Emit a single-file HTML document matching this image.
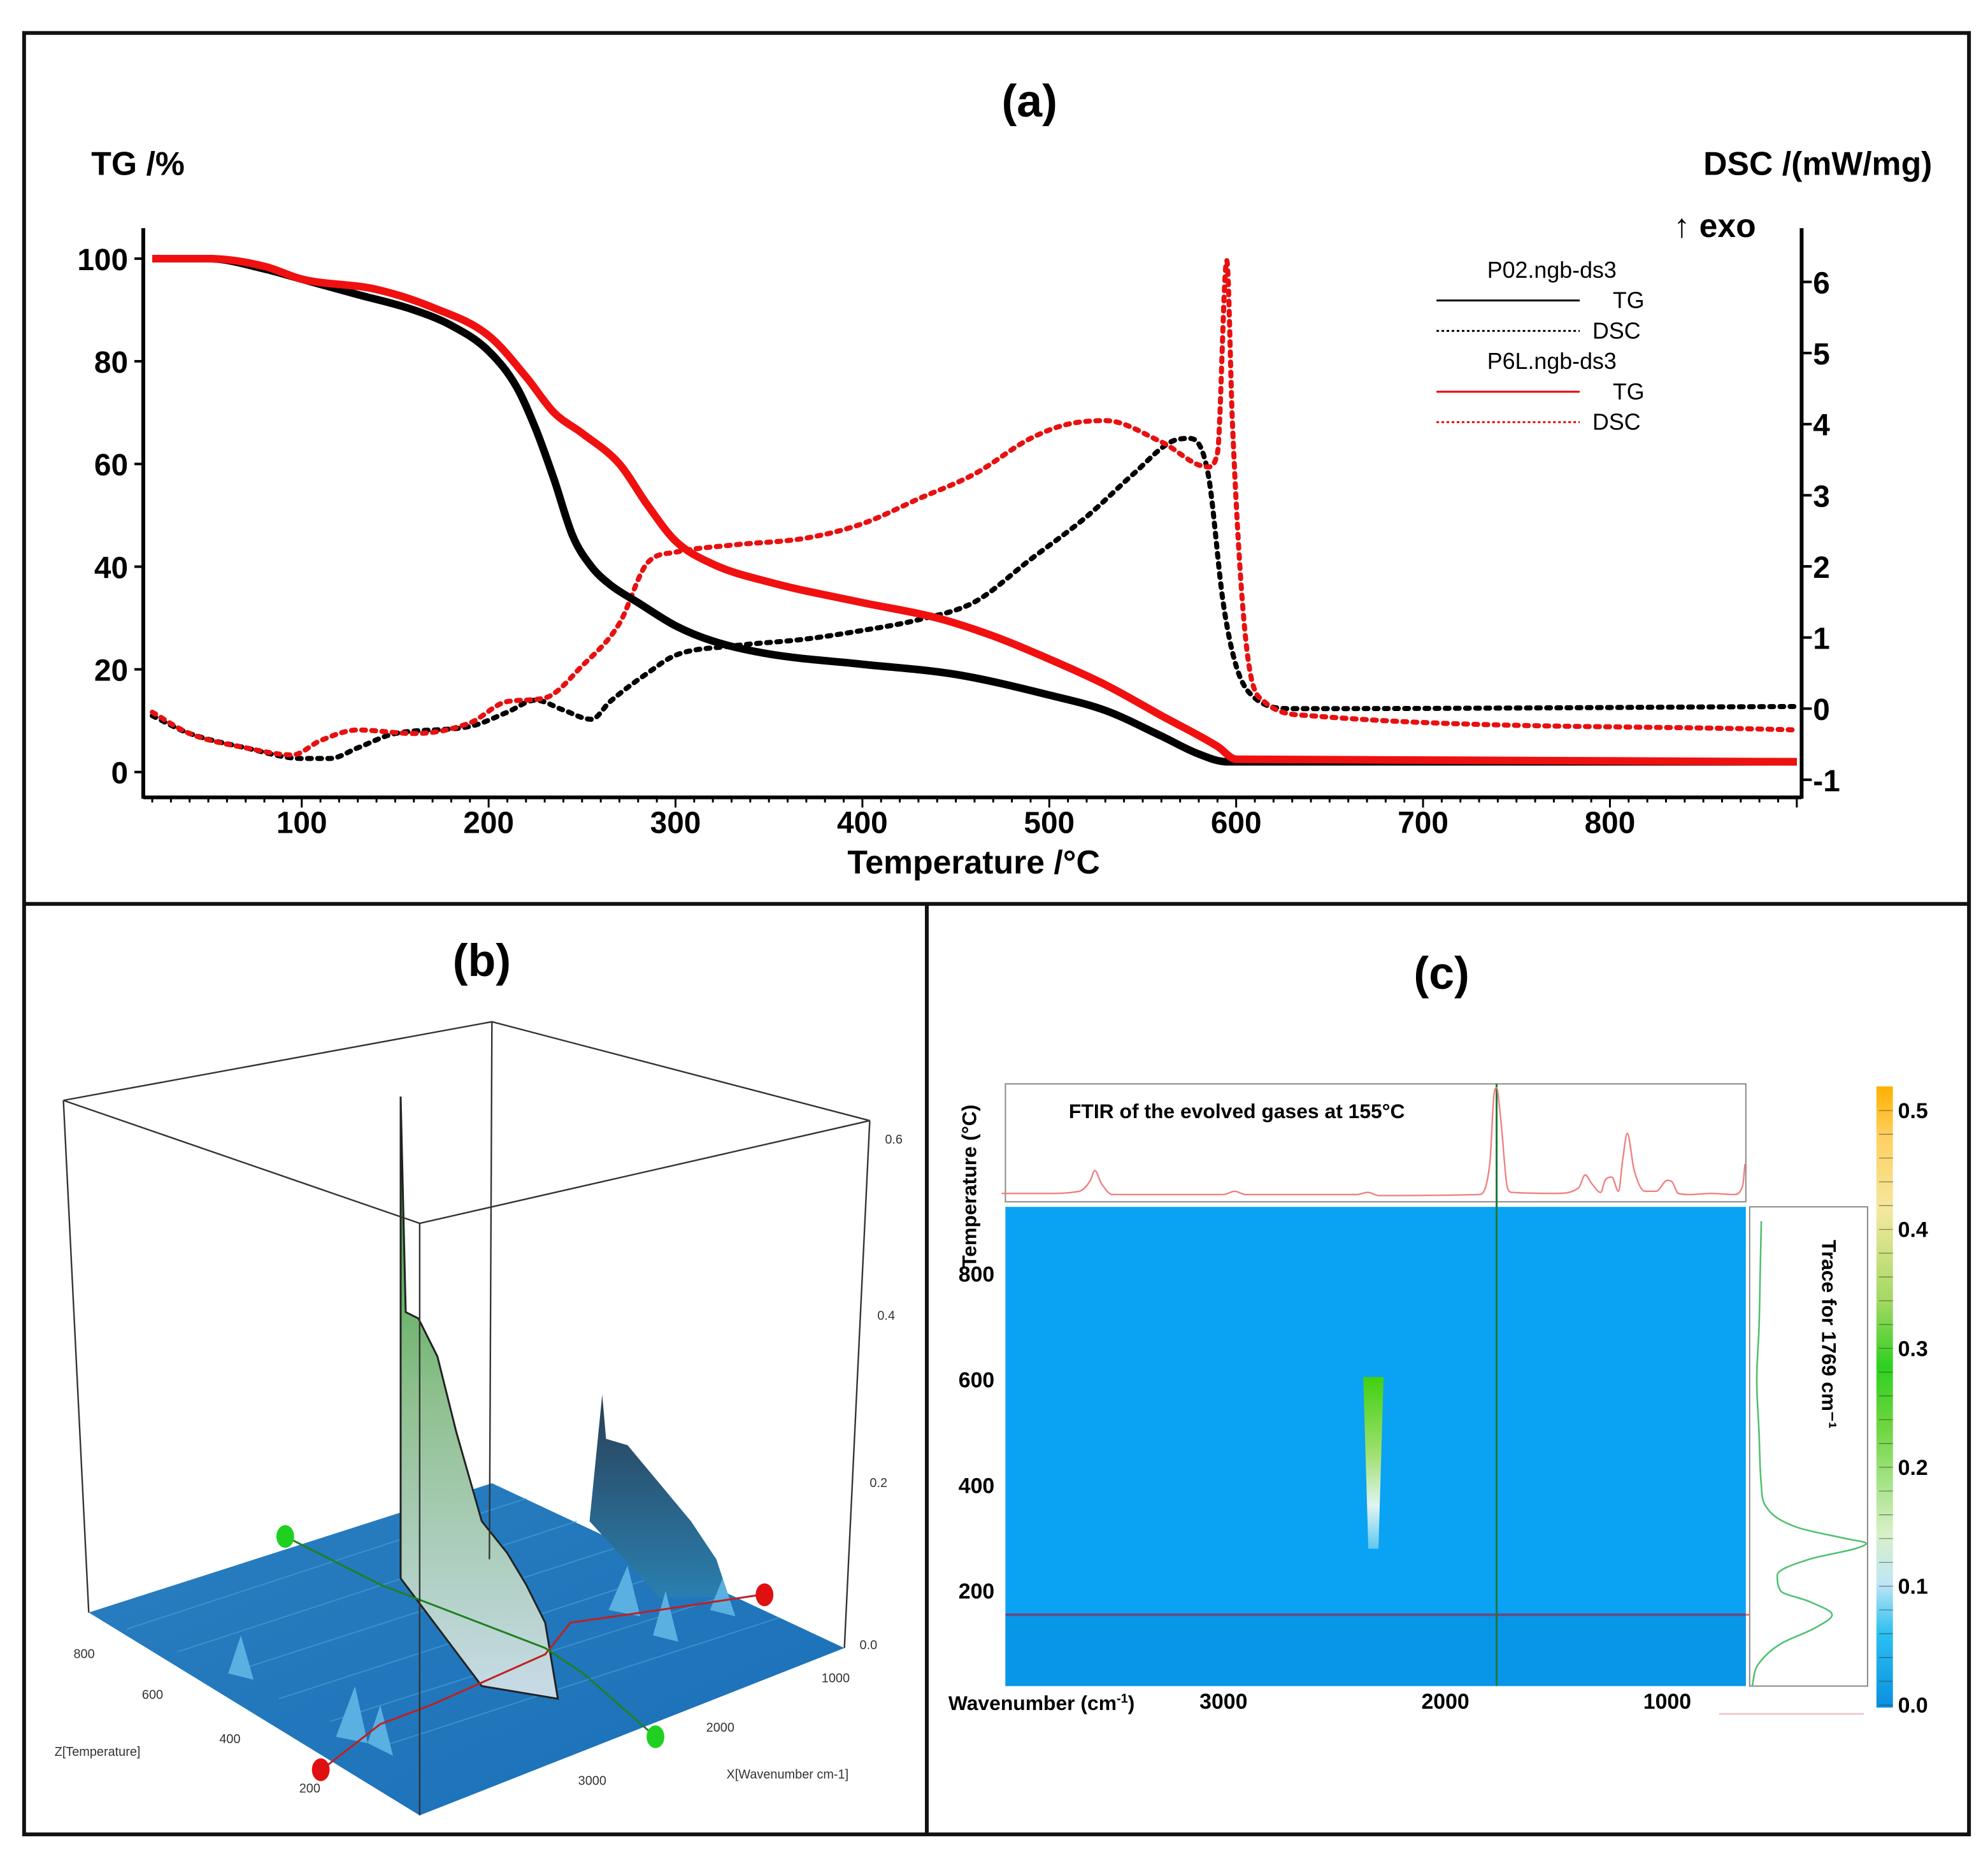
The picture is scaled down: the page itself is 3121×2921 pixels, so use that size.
<!DOCTYPE html>
<html><head><meta charset="utf-8"><style>
html,body{margin:0;padding:0;background:#fff}
svg{display:block}
text{font-family:"Liberation Sans",sans-serif}
</style></head><body>
<svg id="root" width="3121" height="2921" viewBox="0 0 1568 1468" preserveAspectRatio="none" xmlns="http://www.w3.org/2000/svg">
<defs>
<linearGradient id="peakG" x1="0" y1="0" x2="0" y2="1"><stop offset="0" stop-color="#1f9a1f"/><stop offset="0.5" stop-color="#8fc08f"/><stop offset="1" stop-color="#c8dbe8"/></linearGradient>
<linearGradient id="peak2" x1="0" y1="0" x2="0" y2="1"><stop offset="0" stop-color="#2a3f55"/><stop offset="1" stop-color="#2a7fb0"/></linearGradient>
<linearGradient id="cbar" x1="0" y1="1" x2="0" y2="0">
<stop offset="0" stop-color="#0a8fe0"/><stop offset="0.12" stop-color="#2cc0f0"/><stop offset="0.2" stop-color="#bfe6f5"/><stop offset="0.28" stop-color="#d8f0c8"/><stop offset="0.45" stop-color="#6fd640"/><stop offset="0.55" stop-color="#2ed020"/><stop offset="0.65" stop-color="#9fd860"/><stop offset="0.8" stop-color="#f4e8a0"/><stop offset="0.92" stop-color="#ffd060"/><stop offset="1" stop-color="#ffb000"/></linearGradient>
<linearGradient id="band" x1="0" y1="0" x2="0" y2="1"><stop offset="0" stop-color="#40d010"/><stop offset="0.45" stop-color="#a0e070"/><stop offset="0.75" stop-color="#e0f4f0"/><stop offset="1" stop-color="#60c8f0"/></linearGradient>
<linearGradient id="floorG" x1="0" y1="0" x2="1" y2="1"><stop offset="0" stop-color="#2a7fc0"/><stop offset="1" stop-color="#1a6fb8"/></linearGradient>
</defs>
<rect x="19" y="26" width="1534" height="1421" fill="none" stroke="#111" stroke-width="3"/>
<line x1="19" y1="713" x2="1553" y2="713" stroke="#111" stroke-width="3"/>
<line x1="731" y1="713" x2="731" y2="1447" stroke="#111" stroke-width="3"/>

<g id="pa">
<text x="812" y="92" font-size="36" font-weight="bold" text-anchor="middle">(a)</text>
<text x="72" y="138" font-size="26" font-weight="bold">TG /%</text>
<text x="1524" y="138" font-size="26" font-weight="bold" text-anchor="end">DSC /(mW/mg)</text>
<text x="1320" y="187" font-size="26" font-weight="bold">↑ exo</text>
<g id="axA"></g>
<g id="serA"></g>
<g font-size="18">
<text x="1224" y="219" text-anchor="middle">P02.ngb-ds3</text>
<line x1="1133" y1="237" x2="1246" y2="237" stroke="#000" stroke-width="1.5"/>
<text x="1272" y="243">TG</text>
<line x1="1133" y1="261" x2="1246" y2="261" stroke="#000" stroke-width="1.5" stroke-dasharray="2,2"/>
<text x="1256" y="267">DSC</text>
<text x="1224" y="291" text-anchor="middle">P6L.ngb-ds3</text>
<line x1="1133" y1="309" x2="1246" y2="309" stroke="#e00" stroke-width="1.5"/>
<text x="1272" y="315">TG</text>
<line x1="1133" y1="333" x2="1246" y2="333" stroke="#e00" stroke-width="1.5" stroke-dasharray="2,2"/>
<text x="1256" y="339">DSC</text>
</g>
</g>

<g id="pb">
<text x="380" y="770" font-size="36" font-weight="bold" text-anchor="middle">(b)</text>
<polygon points="70,1272 388,1170 666,1300 331,1432" fill="url(#floorG)"/>
<g stroke="#4aa0d8" stroke-width="1" opacity="0.6">
<line x1="100" y1="1285" x2="415" y2="1182"/><line x1="140" y1="1303" x2="455" y2="1200"/><line x1="180" y1="1320" x2="495" y2="1218"/><line x1="220" y1="1340" x2="535" y2="1238"/><line x1="260" y1="1358" x2="575" y2="1258"/><line x1="300" y1="1378" x2="615" y2="1276"/></g>
<path d="M316,1245 L316,865 L320,1035 L330,1040 L345,1070 L360,1130 L380,1200 L400,1225 L415,1250 L430,1280 L440,1340 L380,1330 Z" fill="url(#peakG)" stroke="#222" stroke-width="1.5"/>
<path d="M465,1200 L475,1100 L478,1135 L495,1140 L520,1170 L545,1200 L565,1230 L575,1260 L520,1260 Z" fill="url(#peak2)"/>
<path d="M480,1270 L495,1235 L505,1275 Z M515,1290 L525,1255 L535,1295 Z M560,1270 L570,1245 L580,1275 Z M265,1370 L280,1330 L290,1375 Z M290,1375 L300,1345 L310,1385 Z M180,1320 L190,1290 L200,1325 Z" fill="#5ab0e0"/>
<polyline points="255,1395 300,1360 340,1345 430,1305 450,1280 520,1270 600,1258" fill="none" stroke="#c02020" stroke-width="1.5"/>
<polyline points="225,1212 300,1250 430,1300 460,1320 517,1370" fill="none" stroke="#208020" stroke-width="1.5"/>
<g fill="none" stroke="#333" stroke-width="1.2">
<polyline points="50,868 388,806 686,884 331,965 50,868"/>
<line x1="50" y1="868" x2="70" y2="1272"/><line x1="388" y1="806" x2="386" y2="1230"/>
<line x1="331" y1="965" x2="331" y2="1432"/><line x1="686" y1="884" x2="666" y2="1300"/>
</g>
<ellipse cx="225" cy="1212" rx="7" ry="9" fill="#20d020"/>
<ellipse cx="517" cy="1370" rx="7" ry="9" fill="#20d020"/>
<ellipse cx="253" cy="1396" rx="7" ry="9" fill="#e01010"/>
<ellipse cx="603" cy="1258" rx="7" ry="9" fill="#e01010"/>
<g font-size="10" fill="#333">
<text x="698" y="902">0.6</text><text x="692" y="1041">0.4</text><text x="686" y="1173">0.2</text><text x="678" y="1301">0.0</text>
<text x="58" y="1308">800</text><text x="112" y="1340">600</text><text x="173" y="1375">400</text><text x="236" y="1414">200</text>
<text x="43" y="1385">Z[Temperature]</text>
<text x="648" y="1327">1000</text><text x="557" y="1366">2000</text><text x="456" y="1408">3000</text>
<text x="573" y="1403">X[Wavenumber cm-1]</text>
</g>
</g>

<g id="pc">
<text x="1137" y="780" font-size="36" font-weight="bold" text-anchor="middle">(c)</text>
<rect x="793" y="855" width="584" height="93" fill="#fff" stroke="#888" stroke-width="1"/>
<text x="843" y="882" font-size="16" font-weight="bold">FTIR of the evolved gases at 155°C</text>
<rect x="793" y="952" width="584" height="378" fill="#0aa2f2"/>
<rect x="793" y="1275" width="584" height="55" fill="#0896e8"/>
<g id="hm"></g>
<rect x="1380" y="952" width="93" height="378" fill="#fff" stroke="#888" stroke-width="1"/>
<text transform="translate(1437,978) rotate(90)" font-size="16" font-weight="bold">Trace for 1769 cm⁻¹</text>
<g id="cAx"></g>
<text transform="translate(770,1000) rotate(-90)" font-size="16" font-weight="bold">Temperature (°C)</text>
<text x="748" y="1349" font-size="16" font-weight="bold">Wavenumber (cm<tspan font-size="10" dy="-6">-1</tspan><tspan dy="6">)</tspan></text>
<rect x="1480" y="857" width="13" height="490" fill="url(#cbar)"/>
<g id="cb"></g>
<line x1="1356" y1="1352" x2="1470" y2="1352" stroke="#f4b0b0" stroke-width="1"/>
</g>
</svg>
<script>
// ---- Panel (a) data ----
const tgTemp = [20,50,80,100,130,160,180,200,215,225,235,245,255,265,280,300,320,350,400,450,500,530,560,580,595,610,900];
const tgP02 = [100,100,98,96,93,90,87,82,75,67,57,46,40,36.5,33,28.5,25.5,23,21,19,15,12,7,3.5,2,2,2];
const tgTempB = [20,50,80,100,140,170,200,220,235,250,270,285,300,320,350,400,440,470,500,530,560,590,600,900];
const tgP6L = [100,100,98.5,96,94,90.5,85,77,70,66,60,52,45,40.5,37,33,30,26.5,22,17,11,5,2.5,2];
const dscTempA = [20,40,70,100,115,130,150,190,210,225,240,255,265,285,300,330,370,400,430,460,490,520,545,565,575,585,593,600,610,630,900];
const dscP02 = [-0.1,-0.35,-0.55,-0.7,-0.7,-0.55,-0.35,-0.25,-0.05,0.12,-0.02,-0.15,0.1,0.5,0.75,0.88,0.98,1.1,1.25,1.5,2.1,2.7,3.3,3.75,3.8,3.3,1.5,0.6,0.15,0,0.03];
const dscTempB = [20,40,70,95,110,130,160,190,210,230,250,270,285,300,330,370,400,430,460,490,510,530,560,585,590,595,598,605,615,640,900];
const dscP6L = [-0.05,-0.35,-0.55,-0.65,-0.45,-0.3,-0.35,-0.2,0.1,0.15,0.6,1.2,2.05,2.2,2.3,2.4,2.6,2.95,3.3,3.8,4.0,4.05,3.75,3.4,3.6,6.3,4,1.0,0.1,-0.1,-0.3];
const xTicksA = [100,200,300,400,500,600,700,800];
const tgTicks = [0,20,40,60,80,100];
const dscTicks = [-1,0,1,2,3,4,5,6];

const NS='http://www.w3.org/2000/svg';
function mk(tag, attrs, parent){const e=document.createElementNS(NS,tag);for(const k in attrs)e.setAttribute(k,attrs[k]);parent.appendChild(e);return e;}
const xA = t => 238 + (t-100)*1.474;
const yTG = v => 609 - 4.05*v;
const yDSC = d => 559 - 56.1*d;

// monotone cubic (x must be increasing); swap=true treats y as independent
function smooth(P, swap){
  const Q = swap ? P.map(p=>[p[1],p[0]]) : P.slice();
  if(swap && Q[0][0]>Q[Q.length-1][0]) Q.reverse();
  const n=Q.length, s=[], m=[];
  for(let i=0;i<n-1;i++){const h=Q[i+1][0]-Q[i][0]; s.push(h? (Q[i+1][1]-Q[i][1])/h : 0);}
  for(let i=0;i<n;i++){
    if(i===0) m.push(s[0]); else if(i===n-1) m.push(s[n-2]);
    else m.push(s[i-1]*s[i]<=0?0:(s[i-1]+s[i])/2);
  }
  for(let i=0;i<n-1;i++){
    if(s[i]===0){m[i]=0;m[i+1]=0;continue;}
    const a=m[i]/s[i], b=m[i+1]/s[i], r=a*a+b*b;
    if(r>9){const t=3/Math.sqrt(r); m[i]=t*a*s[i]; m[i+1]=t*b*s[i];}
  }
  const f = swap ? (x,y)=>y.toFixed(1)+','+x.toFixed(1) : (x,y)=>x.toFixed(1)+','+y.toFixed(1);
  let d='M'+f(Q[0][0],Q[0][1]);
  for(let i=0;i<n-1;i++){
    const h=(Q[i+1][0]-Q[i][0])/3;
    d+=' C'+f(Q[i][0]+h,Q[i][1]+m[i]*h)+' '+f(Q[i+1][0]-h,Q[i+1][1]-m[i+1]*h)+' '+f(Q[i+1][0],Q[i+1][1]);
  }
  return d;
}

const axA=document.getElementById('axA');
let e;
e=mk('line',{x1:113,y1:180,x2:113,y2:630,stroke:'#000','stroke-width':3},axA);


e=mk('line',{x1:1421,y1:180,x2:1421,y2:630,stroke:'#000','stroke-width':3},axA);


e=mk('line',{x1:113,y1:629,x2:1421,y2:629,stroke:'#000','stroke-width':3},axA);


for(let t=20;t<=900;t+=10){mk('line',{x1:xA(t),y1:629,x2:xA(t),y2:(t%100===0)?637:633,stroke:'#000','stroke-width':1.5},axA);}
xTicksA.forEach(t=>{e=mk('text',{x:xA(t),y:657,'font-size':24,'font-weight':'bold','text-anchor':'middle'},axA);e.textContent=t;

});
e=mk('text',{x:768,y:689,'font-size':26,'font-weight':'bold','text-anchor':'middle'},axA);e.textContent='Temperature /°C';


tgTicks.forEach(v=>{mk('line',{x1:106,y1:yTG(v),x2:113,y2:yTG(v),stroke:'#000','stroke-width':2},axA);
e=mk('text',{x:101,y:yTG(v)+9,'font-size':24,'font-weight':'bold','text-anchor':'end'},axA);e.textContent=v;

});
dscTicks.forEach(v=>{mk('line',{x1:1421,y1:yDSC(v),x2:1429,y2:yDSC(v),stroke:'#000','stroke-width':2},axA);
e=mk('text',{x:1430,y:yDSC(v)+9,'font-size':24,'font-weight':'bold'},axA);e.textContent=v;

});

const serA=document.getElementById('serA');
function P(xs,ys,fy){return xs.map((t,i)=>[xA(t),fy(ys[i])]);}
e=mk('path',{d:smooth(P(dscTempA,dscP02,yDSC)),fill:'none',stroke:'#000','stroke-width':4,'stroke-dasharray':'3,5','stroke-linecap':'round'},serA);


e=mk('path',{d:smooth(P(dscTempB,dscP6L,yDSC)),fill:'none',stroke:'#e81010','stroke-width':4,'stroke-dasharray':'3,5','stroke-linecap':'round'},serA);


e=mk('path',{d:smooth(P(tgTemp,tgP02,yTG)),fill:'none',stroke:'#000','stroke-width':6,'stroke-linejoin':'round'},serA);


e=mk('path',{d:smooth(P(tgTempB,tgP6L,yTG)),fill:'none',stroke:'#f01010','stroke-width':6,'stroke-linejoin':'round'},serA);



// ---- Panel (c) data ----
const specWn = [4000,3800,3650,3600,3580,3550,3500,3000,2950,2900,2400,2350,2300,1850,1800,1780,1769,1750,1720,1700,1500,1400,1370,1340,1300,1280,1250,1220,1200,1180,1150,1100,1050,1000,980,950,900,800,700,660,650];
const specAbs = [0.03,0.03,0.05,0.15,0.24,0.12,0.02,0.02,0.05,0.02,0.02,0.04,0.01,0.02,0.3,0.95,1.0,0.7,0.08,0.04,0.03,0.08,0.2,0.12,0.04,0.15,0.18,0.05,0.35,0.58,0.25,0.05,0.05,0.15,0.14,0.03,0.02,0.03,0.02,0.1,0.3];
const traceT = [20,60,100,130,155,180,200,230,260,280,290,300,320,360,400,500,600,700,800,900];
const traceV = [0,0.05,0.25,0.55,0.7,0.5,0.25,0.22,0.5,0.9,1.0,0.8,0.4,0.12,0.08,0.06,0.04,0.06,0.07,0.08];
const wnTicks = [3000,2000,1000];
const tTicks = [200,400,600,800];
const cbTicks = [0.0,0.1,0.2,0.3,0.4,0.5];

const xW = w => 1140 - (w-2000)*0.175;
const yT = t => 1255 - (t-200)*0.4167;
const ySpec = a => 944 - a*86;
const xTr = v => 1382 + v*90;
const yCb = v => 1345 - v*938;

const pc=document.getElementById('pc');
const hm=document.getElementById('hm');
e=mk('path',{d:`M${xW(2370)},${yT(605)} L${xW(2370)+16},${yT(605)} L${xW(2370)+12},${yT(280)} L${xW(2370)+4},${yT(280)} Z`,fill:'url(#band)'},hm);


e=mk('line',{x1:793,y1:yT(155),x2:1473,y2:yT(155),stroke:'#f08080','stroke-width':1.5},hm);


e=mk('line',{x1:793,y1:yT(155),x2:1377,y2:yT(155),stroke:'#6a4a80','stroke-width':2},hm);


e=mk('line',{x1:xW(1769),y1:855,x2:xW(1769),y2:1330,stroke:'#1a7a3a','stroke-width':1.5},hm);


e=mk('path',{d:smooth(specWn.map((w,i)=>[xW(w),ySpec(specAbs[i])])),fill:'none',stroke:'#f08080','stroke-width':1.2},pc);


e=mk('path',{d:smooth(traceT.map((t,i)=>[xTr(traceV[i]),yT(t)]),true),fill:'none',stroke:'#50c070','stroke-width':1.3},pc);


const cAx=document.getElementById('cAx');
wnTicks.forEach(w=>{e=mk('text',{x:xW(w),y:1348,'font-size':17,'font-weight':'bold','text-anchor':'middle'},cAx);e.textContent=w;

});
tTicks.forEach(t=>{e=mk('text',{x:756,y:yT(t)+6,'font-size':17,'font-weight':'bold'},cAx);e.textContent=t;

});
const cb=document.getElementById('cb');
for(let v=0;v<=0.52;v+=0.02){mk('line',{x1:1482,y1:yCb(v),x2:1493,y2:yCb(v),stroke:'#333','stroke-width':0.6,opacity:0.6},cb);}
cbTicks.forEach(v=>{e=mk('text',{x:1497,y:yCb(v)+6,'font-size':17,'font-weight':'bold'},cb);e.textContent=v.toFixed(1);

});
</script>
</body></html>
